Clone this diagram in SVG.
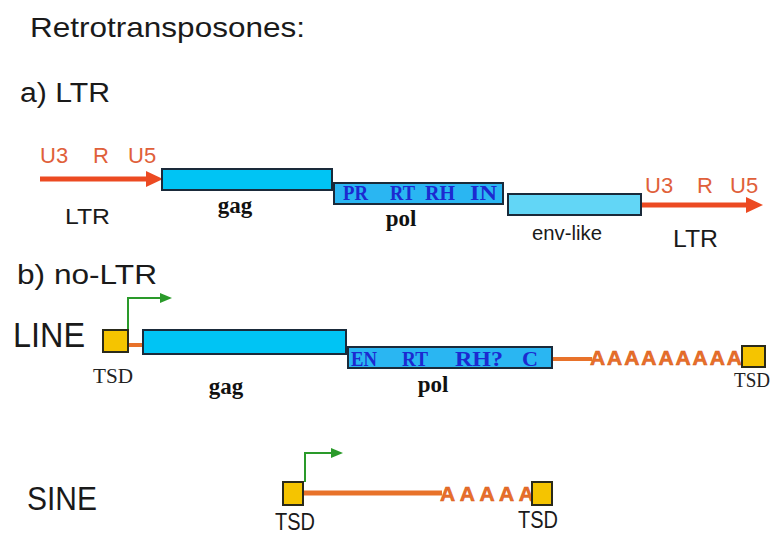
<svg xmlns="http://www.w3.org/2000/svg" width="772" height="536" viewBox="0 0 772 536">
<style>
.sans{font-family:"Liberation Sans",Arial,sans-serif;fill:#1a1a1a}
.u{font-family:"Liberation Sans",Arial,sans-serif;fill:#e0603a;font-size:22px}
.bold{font-family:"Liberation Serif","Times New Roman",serif;font-weight:bold;fill:#111;font-size:23px}
.dom{font-family:"Liberation Serif","Times New Roman",serif;font-weight:bold;fill:#1c2ad0;font-size:20px}
.tsdl{font-family:"Liberation Serif","Times New Roman",serif;fill:#222;font-size:20px}
.box{stroke:#1a2a3a;stroke-width:2}
.gag{fill:#00c4f4}
.pol{fill:#2ab6f2}
.env{fill:#62d6f6}
.tsd{fill:#f5c400;stroke:#2a2a1a;stroke-width:2}
.aa{font-family:"Liberation Sans",Arial,sans-serif;font-weight:bold;fill:#e8702a;stroke:#d85a1a;stroke-width:0.6;font-size:21px}
.orange{stroke:#e8722a;fill:none}
.green{stroke:#2a9a2a;stroke-width:2;fill:none}
</style>
<rect width="772" height="536" fill="#ffffff"/>

<g id="title">
<text class="sans" x="30" y="37" font-size="28" textLength="275" lengthAdjust="spacingAndGlyphs">Retrotransposones:</text>
<text class="sans" x="20" y="102" font-size="27" textLength="90" lengthAdjust="spacingAndGlyphs">a) LTR</text>
<text class="sans" x="17" y="284" font-size="27" textLength="140" lengthAdjust="spacingAndGlyphs">b) no-LTR</text>
</g>

<g id="connectors">
<line x1="40" y1="179" x2="149" y2="179" stroke="#ec4a22" stroke-width="5"/>
<polygon points="146,171 163,179 146,187" fill="#ec4a22"/>
<line x1="641" y1="205" x2="749" y2="205" stroke="#ec4a22" stroke-width="5"/>
<polygon points="746,197 763,205 746,213" fill="#ec4a22"/>
<line class="orange" x1="128" y1="345" x2="143" y2="345" stroke-width="4"/>
<line class="orange" x1="552" y1="359" x2="592" y2="359" stroke-width="4"/>
<line class="orange" x1="303" y1="493" x2="442" y2="493" stroke-width="5"/>
<path class="green" d="M128,330 V298 H162"/>
<polygon points="160,293 172,298 160,303" fill="#2a9a2a"/>
<path class="green" d="M305,482 V453 H333"/>
<polygon points="331,448 343,453 331,458" fill="#2a9a2a"/>
</g>

<g id="ltr-left">
<text class="u" x="40" y="163">U3</text>
<text class="u" x="93" y="163">R</text>
<text class="u" x="128" y="163">U5</text>
<text class="sans" x="65" y="224" font-size="22" textLength="45" lengthAdjust="spacingAndGlyphs">LTR</text>
</g>

<g id="ltr-gag">
<rect class="box gag" x="162" y="169" width="170" height="21"/>
<text class="bold" x="235" y="213" text-anchor="middle">gag</text>
</g>

<g id="ltr-pol">
<rect class="box pol" x="334" y="183" width="169" height="21"/>
<text class="dom" x="343" y="200" textLength="25" lengthAdjust="spacingAndGlyphs">PR</text>
<text class="dom" x="390" y="200" textLength="25" lengthAdjust="spacingAndGlyphs">RT</text>
<text class="dom" x="425" y="200" textLength="30" lengthAdjust="spacingAndGlyphs">RH</text>
<text class="dom" x="470" y="200" textLength="27" lengthAdjust="spacingAndGlyphs">IN</text>
<text class="bold" x="401" y="226" text-anchor="middle">pol</text>
</g>

<g id="ltr-env">
<rect class="box env" x="508" y="194" width="133" height="21"/>
<text class="sans" x="532" y="240" font-size="20" textLength="70" lengthAdjust="spacingAndGlyphs">env-like</text>
</g>

<g id="ltr-right">
<text class="u" x="645" y="193">U3</text>
<text class="u" x="697" y="193">R</text>
<text class="u" x="730" y="193">U5</text>
<text class="sans" x="673" y="247" font-size="24" textLength="45" lengthAdjust="spacingAndGlyphs">LTR</text>
</g>

<g id="line-label">
<text class="sans" x="13" y="347" font-size="35" textLength="72" lengthAdjust="spacingAndGlyphs">LINE</text>
</g>

<g id="line-tsd-left">
<rect class="tsd" x="103" y="330" width="25" height="22"/>
<text class="tsdl" x="93" y="383" textLength="40" lengthAdjust="spacingAndGlyphs">TSD</text>
</g>

<g id="line-gag">
<rect class="box gag" x="143" y="330" width="203" height="24"/>
<text class="bold" x="226" y="394" text-anchor="middle">gag</text>
</g>

<g id="line-pol">
<rect class="box pol" x="348" y="347" width="204" height="21"/>
<text class="dom" x="351" y="366" textLength="26" lengthAdjust="spacingAndGlyphs">EN</text>
<text class="dom" x="402" y="366" textLength="26" lengthAdjust="spacingAndGlyphs">RT</text>
<text class="dom" x="455" y="366" textLength="48" lengthAdjust="spacingAndGlyphs">RH?</text>
<text class="dom" x="522" y="366" textLength="16" lengthAdjust="spacingAndGlyphs">C</text>
<text class="bold" x="433" y="392" text-anchor="middle">pol</text>
</g>

<g id="line-polyA">
<text class="aa" x="590" y="365" textLength="152" lengthAdjust="spacing">AAAAAAAAA</text>
</g>

<g id="line-tsd-right">
<rect class="tsd" x="742" y="346" width="23" height="21"/>
<text class="tsdl" x="734" y="387" textLength="36" lengthAdjust="spacingAndGlyphs">TSD</text>
</g>

<g id="sine-label">
<text class="sans" x="27" y="510" font-size="34" textLength="70" lengthAdjust="spacingAndGlyphs">SINE</text>
</g>

<g id="sine-tsd-left">
<rect class="tsd" x="283" y="482" width="20" height="23"/>
<text class="sans" x="275" y="530" font-size="23" textLength="40" lengthAdjust="spacingAndGlyphs">TSD</text>
</g>

<g id="sine-polyA">
<text class="aa" x="440" y="501" font-size="23" textLength="94" lengthAdjust="spacing">AAAAA</text>
</g>

<g id="sine-tsd-right">
<rect class="tsd" x="532" y="482" width="20" height="23"/>
<text class="sans" x="518" y="528" font-size="23" textLength="40" lengthAdjust="spacingAndGlyphs">TSD</text>
</g>
</svg>
